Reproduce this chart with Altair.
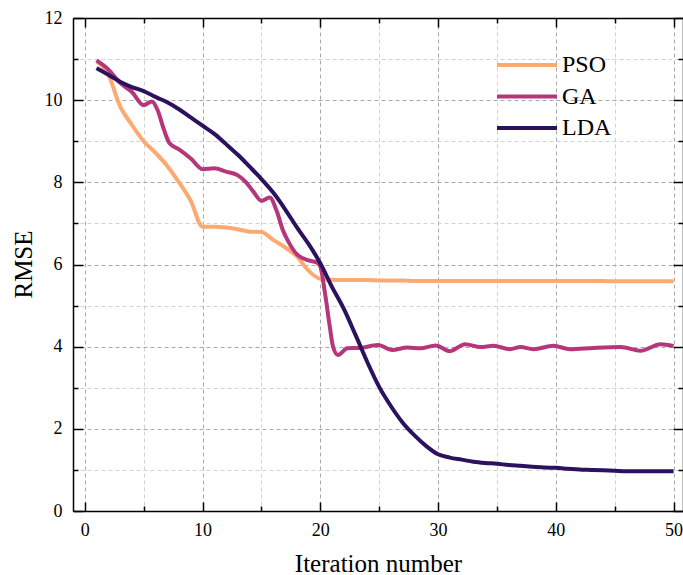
import altair as alt
import pandas as pd

series_names = ["PSO", "GA", "LDA"]
series_colors = ["#fdaa72", "#b5367a", "#2c115f"]

pso_iter = list(range(1, 51))
pso_rmse = [10.95, 10.62, 9.85, 9.4, 9.0, 8.72, 8.4, 8.0, 7.55, 6.92,
            6.92, 6.9, 6.86, 6.8, 6.79, 6.6, 6.42, 6.2, 5.85, 5.65,
            5.63, 5.62, 5.62, 5.62, 5.61, 5.61, 5.61, 5.6, 5.6, 5.6,
            5.6, 5.6, 5.6, 5.6, 5.6, 5.6, 5.6, 5.6, 5.6, 5.6,
            5.6, 5.6, 5.6, 5.6, 5.59, 5.59, 5.59, 5.59, 5.59, 5.59]

ga_iter = [1, 2, 3, 4, 5, 5.7, 6.2, 6.7, 7.2, 8, 9, 10, 11, 12, 13, 13.7, 14.3,
           15, 15.7, 16.3, 16.8, 17.3, 18, 19, 19.7, 20, 20.4, 20.8, 21.1, 21.5,
           22.3, 23.4, 24.9, 26.1, 27.4, 28.5, 29.8, 31, 32.3, 33.6, 34.7, 36.1,
           37, 38.1, 39.8, 41.2, 43.2, 45.5, 47.2, 48.9, 50]
ga_rmse = [10.97, 10.75, 10.42, 10.2, 9.88, 9.97, 9.75, 9.3, 8.95, 8.8, 8.58,
           8.32, 8.34, 8.26, 8.17, 8.0, 7.78, 7.55, 7.63, 7.3, 6.85, 6.55, 6.25,
           6.1, 6.05, 5.95, 5.3, 4.5, 3.98, 3.8, 3.96, 3.97, 4.04, 3.92, 3.98,
           3.96, 4.03, 3.89, 4.06, 3.99, 4.02, 3.94, 3.99, 3.94, 4.02, 3.94,
           3.97, 3.99, 3.9, 4.06, 4.02]

lda_iter = list(range(1, 51))
lda_rmse = [10.78, 10.62, 10.45, 10.32, 10.22, 10.08, 9.95, 9.78, 9.58, 9.38,
            9.18, 8.93, 8.67, 8.38, 8.08, 7.75, 7.35, 6.91, 6.5, 6.03,
            5.45, 4.92, 4.28, 3.62, 3.02, 2.55, 2.15, 1.84, 1.58, 1.38,
            1.3, 1.25, 1.2, 1.17, 1.15, 1.12, 1.1, 1.08, 1.06, 1.05,
            1.03, 1.01, 1.0, 0.99, 0.98, 0.97, 0.97, 0.97, 0.97, 0.97]

x_ticks = [0, 5, 10, 15, 20, 25, 30, 35, 40, 45, 50]
y_ticks = list(range(0, 13))

rows = []
for name, xs, ys in [("PSO", pso_iter, pso_rmse), ("GA", ga_iter, ga_rmse), ("LDA", lda_iter, lda_rmse)]:
    for xv, yv in zip(xs, ys):
        rows.append({"series": name, "iter": xv, "rmse": yv})
df = pd.DataFrame(rows)

FONT = "Liberation Serif"
x_scale = alt.Scale(domain=[-1, 50.8], nice=False, zero=False)
y_scale = alt.Scale(domain=[0, 12], nice=False)

grid_color_x = {"condition": {"test": "datum.value % 10 === 0", "value": "#a8a8a8"}, "value": "#d2d2d2"}
grid_color_y = {"condition": {"test": "datum.value % 2 === 0", "value": "#a8a8a8"}, "value": "#d2d2d2"}
tick_x = alt.ExprRef(expr="datum.value % 10 === 0 ? -9 : -5")
tick_y = alt.ExprRef(expr="datum.value % 2 === 0 ? -10 : -5")

main = alt.Chart(df).mark_line(strokeWidth=4, interpolate="monotone").encode(
    x=alt.X("iter:Q", scale=x_scale,
            axis=alt.Axis(orient="bottom", values=x_ticks, title="Iteration number",
                          labelExpr="datum.value % 10 === 0 ? datum.label : ''",
                          tickSize=tick_x, tickWidth=1.5, tickColor="black",
                          labelPadding=19, labelFont=FONT, labelFontSize=18, labelColor="black",
                          titleFont=FONT, titleFontSize=25, titleFontWeight="normal", titleColor="black",
                          titleY=60, titleBaseline="alphabetic",
                          grid=True, gridColor=grid_color_x, gridDash=[4, 3], gridWidth=1,
                          domainColor="black", domainWidth=1.5)),
    y=alt.Y("rmse:Q", scale=y_scale,
            axis=alt.Axis(orient="left", values=y_ticks, title="RMSE",
                          labelExpr="datum.value % 2 === 0 ? datum.label : ''",
                          tickSize=tick_y, tickWidth=1.5, tickColor="black",
                          labelPadding=21, labelFont=FONT, labelFontSize=18, labelColor="black",
                          titleFont=FONT, titleFontSize=25, titleFontWeight="normal", titleColor="black",
                          titleX=-50, titleY=246, titleBaseline="middle", titleAngle=-90,
                          grid=True, gridColor=grid_color_y, gridDash=[4, 3], gridWidth=1,
                          domainColor="black", domainWidth=1.5)),
    stroke=alt.Stroke("series:N", sort=series_names,
                      scale=alt.Scale(domain=series_names, range=series_colors),
                      legend=alt.Legend(title=None, orient="none", legendX=422, legendY=34,
                                        symbolType="stroke", symbolSize=3600, symbolStrokeWidth=4,
                                        labelFont=FONT, labelFontSize=24, labelColor="black",
                                        labelOffset=3, clipHeight=26, rowPadding=5.5, padding=0)),
    order=alt.value(0),
)

frame = alt.Chart(df).mark_line(strokeOpacity=0).encode(
    x=alt.X("iter:Q", scale=x_scale,
            axis=alt.Axis(orient="top", values=x_ticks, title=None, labels=False,
                          tickSize=tick_x, tickWidth=1.5, tickColor="black", grid=False,
                          domainColor="black", domainWidth=1.5)),
    y=alt.Y("rmse:Q", scale=y_scale,
            axis=alt.Axis(orient="right", values=y_ticks, title=None, labels=False,
                          tickSize=tick_y, tickWidth=1.5, tickColor="black", grid=False,
                          domainColor="black", domainWidth=1.5)),
    detail="series:N",
)

chart = alt.layer(main, frame).resolve_axis(x="independent", y="independent").properties(
    width=610, height=493,
    autosize=alt.AutoSizeParams(type="none"),
    padding={"left": 73, "top": 18, "right": 0, "bottom": 64},
).configure_view(stroke=None)

chart.save("out.html", embed_options={"renderer": "svg", "actions": False})
